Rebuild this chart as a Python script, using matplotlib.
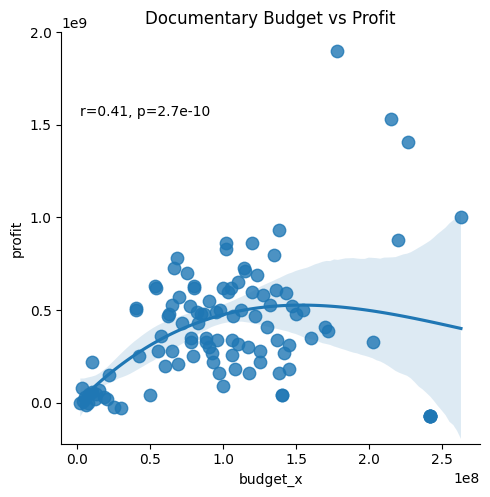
import matplotlib
matplotlib.use("Agg")
import matplotlib.pyplot as plt
import seaborn as sns
import pandas as pd

# budget in units of 1e8, profit in units of 1e9 (repeated entries = overlapping films)
budget = [0.02, 0.03, 0.05, 0.07, 0.08, 0.10, 0.12, 0.15, 0.10, 0.18, 0.20, 0.06, 0.04, 0.13,
          0.25, 0.30, 0.22,
          0.40, 0.40, 0.42, 0.50, 0.53, 0.54, 0.55, 0.57, 0.60, 0.62, 0.63, 0.65, 0.65, 0.66,
          0.68, 0.69, 0.70, 0.72, 0.75, 0.77, 0.78, 0.78, 0.79, 0.80, 0.80, 0.82, 0.83, 0.85,
          0.87, 0.88, 0.88, 0.90, 0.90, 0.92, 0.93, 0.95, 0.96, 0.97, 0.98, 1.00, 1.00, 1.02,
          1.02, 1.03, 1.05, 1.06, 1.06, 1.07, 1.08, 1.10, 1.10, 1.12, 1.14, 1.15, 1.17, 1.18,
          1.20, 1.20, 1.22, 1.23, 1.25, 1.25, 1.27, 1.30, 1.32, 1.35, 1.36, 1.37, 1.38, 1.38,
          1.40, 1.40, 1.42, 1.43, 1.45, 1.45, 1.47, 1.50, 1.55, 1.60, 1.70, 1.72, 1.78, 2.03,
          2.15, 2.20, 2.27, 2.42, 2.42, 2.42, 2.42, 2.42, 2.63]
profit = [0.00, 0.08, 0.03, 0.00, 0.05, 0.06, 0.02, 0.07, 0.22, 0.03, 0.02, -0.01, 0.01, 0.05,
          -0.02, -0.03, 0.15,
          0.51, 0.50, 0.25, 0.04, 0.63, 0.62, 0.28, 0.36, 0.20, 0.47, 0.48, 0.28, 0.53, 0.73,
          0.78, 0.21, 0.57, 0.43, 0.70, 0.52, 0.35, 0.33, 0.25, 0.63, 0.62, 0.49, 0.43, 0.48,
          0.48, 0.33, 0.35, 0.30, 0.55, 0.27, 0.22, 0.49, 0.34, 0.16, 0.50, 0.62, 0.09, 0.83,
          0.86, 0.60, 0.62, 0.34, 0.26, 0.47, 0.18, 0.65, 0.32, 0.50, 0.73, 0.71, 0.30, 0.16,
          0.86, 0.60, 0.47, 0.69, 0.28, 0.22, 0.58, 0.41, 0.53, 0.80, 0.61, 0.34, 0.93, 0.16,
          0.04, 0.04, 0.27, 0.59, 0.18, 0.31, 0.52, 0.48, 0.50, 0.35, 0.41, 0.39, 1.90, 0.33,
          1.53, 0.88, 1.41, -0.07, -0.07, -0.07, -0.07, -0.07, 1.00]

df = pd.DataFrame({"budget_x": [b * 1e8 for b in budget],
                   "profit": [p * 1e9 for p in profit]})

g = sns.lmplot(data=df, x="budget_x", y="profit", order=3, height=5,
               scatter_kws={"s": 80}, seed=0)
ax = g.ax
ax.set_title("Documentary Budget vs Profit")
ax.text(0.02e8, 1.55e9, "r=0.41, p=2.7e-10")
ax.set_ylim(-0.22e9, 2.0e9)
ax.set_yticks([0, 0.5e9, 1.0e9, 1.5e9, 2.0e9])
g.figure.savefig("out.png", dpi=100, bbox_inches="tight")
